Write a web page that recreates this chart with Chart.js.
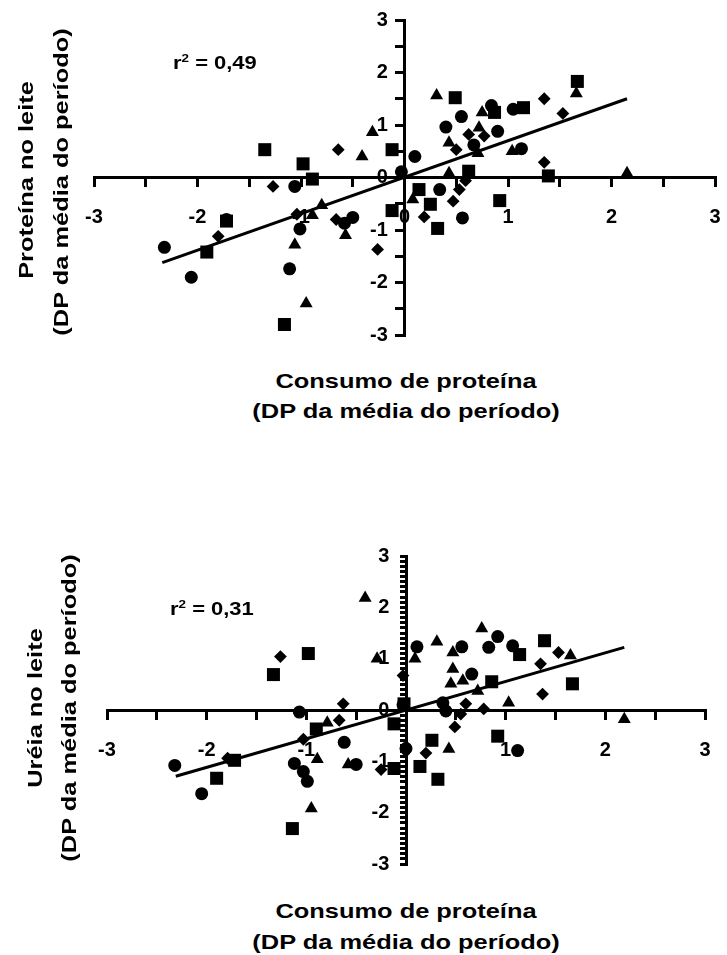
<!DOCTYPE html>
<html>
<head>
<meta charset="utf-8">
<script src="https://cdn.jsdelivr.net/npm/chart.js@4.4.0/dist/chart.umd.min.js"></script>
<style>
  body { margin: 0; background: #fff; width: 727px; height: 955px; position: relative; overflow: hidden;
         font-family: 'Liberation Sans', Arial, sans-serif; font-weight: bold; color: #000; }
  .box { position: absolute; left: 0; width: 727px; }
  .t { position: absolute; white-space: nowrap; font-size: 21px; line-height: 1; }
  .h { transform: translate(-50%, -50%) scaleX(1.21); }
  .v { transform: translate(-50%, -50%) rotate(-90deg) scaleX(1.21); }
  .r2 { position: absolute; font-size: 18px; line-height: 1; transform: translateY(-50%) scaleX(1.22); transform-origin: left center; white-space: nowrap; }
  .r2 sup { font-size: 11px; vertical-align: 7px; }
</style>
</head>
<body>

<div class="box" style="top:0;height:350px"><canvas id="top"></canvas></div>
<div class="box" style="top:540px;height:340px"><canvas id="bottom"></canvas></div>

<div class="t v" style="left:25px;top:180px">Proteína no leite</div>
<div class="t v" style="left:60px;top:182px">(DP da média do período)</div>
<div class="t h" style="left:406px;top:380px">Consumo de proteína</div>
<div class="t h" style="left:406px;top:410px">(DP da média do período)</div>
<div class="r2" style="left:173px;top:62px">r<sup>2</sup> = 0,49</div>

<div class="t v" style="left:34px;top:708px">Uréia no leite</div>
<div class="t v" style="left:68px;top:708px">(DP da média do período)</div>
<div class="t h" style="left:406px;top:910px">Consumo de proteína</div>
<div class="t h" style="left:406px;top:941px">(DP da média do período)</div>
<div class="r2" style="left:170px;top:608px">r<sup>2</sup> = 0,31</div>

<script>
// top panel: milk protein vs protein intake (SD from period mean)
const protCircles = [[-2.32,-1.33],[-2.06,-1.90],[-1.72,-0.80],[-1.06,-0.17],[-1.01,-0.98],[-1.11,-1.74],
  [-0.58,-0.87],[-0.50,-0.76],[-0.03,0.11],[0.10,0.40],[0.40,0.96],[0.55,1.16],[0.84,1.37],[1.05,1.30],
  [0.90,0.88],[0.67,0.62],[1.13,0.55],[0.34,-0.23],[0.56,-0.77]];
const protSquares = [[-1.35,0.53],[-0.98,0.26],[-0.89,-0.03],[-1.72,-0.83],[-1.91,-1.42],[-1.16,-2.80],
  [-0.12,0.53],[-0.12,-0.63],[0.49,1.52],[0.87,1.24],[1.15,1.33],[1.67,1.83],[0.62,0.12],[0.14,-0.23],
  [0.25,-0.51],[0.32,-0.97],[0.92,-0.44],[1.39,0.03]];
const protTriangles = [[-0.31,0.86],[-0.41,0.40],[-0.80,-0.53],[-0.89,-0.72],[-1.06,-1.28],[-0.95,-2.40],
  [-0.57,-1.10],[0.31,1.56],[1.66,1.60],[0.72,0.95],[0.75,1.24],[0.43,0.66],[0.71,0.46],[1.04,0.50],
  [0.43,0.08],[2.15,0.08],[0.08,-0.42]];
const protDiamonds = [[-1.27,-0.17],[-0.64,0.53],[-1.80,-1.12],[-0.26,-1.37],[-1.04,-0.70],[-0.66,-0.80],
  [1.35,1.50],[1.53,1.22],[0.62,0.82],[0.77,0.79],[0.50,0.53],[1.35,0.29],[0.59,-0.06],[0.53,-0.23],
  [0.47,-0.45],[0.19,-0.75]];
const protTrend = [[-2.34,-1.62],[2.15,1.50]];

// bottom panel: milk urea vs protein intake
const ureaCircles = [[-2.32,-1.08],[-2.05,-1.63],[-1.07,-0.04],[-1.12,-1.04],[-1.03,-1.20],[-0.99,-1.39],
  [-0.62,-0.63],[-0.50,-1.06],[-0.03,0.10],[0.11,1.23],[0.56,1.23],[0.92,1.43],[0.83,1.22],[1.07,1.25],
  [0.66,0.70],[0.37,0.14],[0.40,-0.02],[1.12,-0.79],[0.00,-0.75]];
const ureaSquares = [[-1.33,0.69],[-0.98,1.10],[-1.90,-1.33],[-1.72,-0.98],[-1.14,-2.31],[-0.90,-0.37],
  [-0.12,-0.27],[-0.12,-1.14],[1.39,1.35],[1.14,1.08],[0.86,0.55],[1.67,0.51],[-0.02,0.12],[0.26,-0.59],
  [0.14,-1.10],[0.32,-1.35],[0.92,-0.51]];
const ureaTriangles = [[-0.41,2.18],[-0.29,1.00],[-0.79,-0.25],[-0.89,-0.96],[-0.95,-1.92],[-0.58,-1.06],
  [0.76,1.59],[0.31,1.33],[0.09,1.00],[0.47,1.12],[1.65,1.06],[0.47,0.80],[0.45,0.51],[0.57,0.57],
  [0.72,0.37],[1.03,0.14],[2.19,-0.18],[0.43,-0.76]];
const ureaDiamonds = [[-1.26,1.04],[-1.79,-0.94],[-0.63,0.12],[-0.67,-0.20],[-1.03,-0.57],[-0.25,-1.16],
  [-0.03,0.67],[1.53,1.12],[1.35,0.90],[1.37,0.31],[0.60,0.12],[0.78,0.02],[0.55,-0.08],[0.49,-0.33],
  [0.20,-0.84]];
const ureaTrend = [[-2.31,-1.29],[2.19,1.22]];

const xTickStep = 0.5;
const protYStep = 0.5;
const ureaYStep = 0.1;

const tickFont = { family: 'Liberation Sans', weight: 'bold', size: 20 };
const whole = v => Math.abs(v - Math.round(v)) < 1e-6 ? String(Math.round(v)) : '';
// y labels sit right-aligned on the axis line, trailing spaces push them left of the ticks
const wholeY = v => { const s = whole(v); return s ? s + '   ' : ''; };
const pts = arr => arr.map(p => ({ x: p[0], y: p[1] }));

// centred axes: keep them from eating into the plot area
const noSpaceX = s => { s.height = 0; s.paddingLeft = 0; s.paddingRight = 0; };
const noSpaceY = s => { s.width = 0; s.paddingTop = 0; s.paddingBottom = 0; };

function marks(data, style, r) {
  return { type: 'scatter', data: pts(data), pointStyle: style, pointRadius: r, pointHoverRadius: r,
           backgroundColor: '#000', borderColor: '#000', borderWidth: 0 };
}

function makeChart(id, series, trend, yStep, yTick, pad) {
  return new Chart(document.getElementById(id), {
    data: {
      datasets: [
        { type: 'line', data: pts(trend), borderColor: '#000', borderWidth: 3, pointRadius: 0, fill: false },
        marks(series[0], 'circle', 6.5),
        marks(series[1], 'rect', 9.2),
        marks(series[2], 'triangle', 7.5),
        marks(series[3], 'rectRot', 6.4)
      ]
    },
    options: {
      responsive: true,
      maintainAspectRatio: false,
      animation: false,
      layout: { padding: pad, autoPadding: false },
      plugins: { legend: { display: false }, tooltip: { enabled: false } },
      scales: {
        x: {
          type: 'linear', min: -3, max: 3, position: { y: 0 },
          afterFit: noSpaceX,
          ticks: { stepSize: xTickStep, autoSkip: false, maxRotation: 0, color: '#000', font: tickFont,
                   padding: 20, callback: whole },
          grid: { drawOnChartArea: false, tickLength: 8, lineWidth: 3, color: '#000' },
          border: { color: '#000', width: 3 }
        },
        y: {
          type: 'linear', min: -3, max: 3, position: { x: 0 },
          afterFit: noSpaceY,
          ticks: { stepSize: yStep, autoSkip: false, color: '#000', font: tickFont, padding: 8, callback: wholeY },
          grid: { drawOnChartArea: false, tickLength: yTick, lineWidth: 3, color: '#000' },
          border: { color: '#000', width: 3 }
        }
      }
    }
  });
}

makeChart('top', [protCircles, protSquares, protTriangles, protDiamonds], protTrend, protYStep, 8,
  { top: 20, bottom: 15, left: 94, right: 12 });
makeChart('bottom', [ureaCircles, ureaSquares, ureaTriangles, ureaDiamonds], ureaTrend, ureaYStep, 5,
  { top: 16, bottom: 16, left: 107, right: 22 });
</script>
</body>
</html>
